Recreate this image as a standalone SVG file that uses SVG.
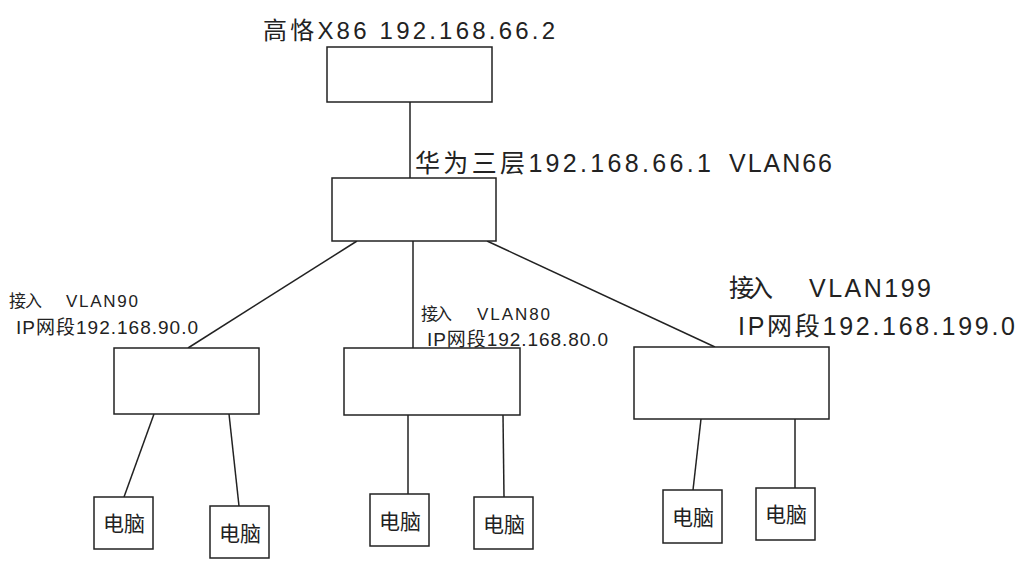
<svg xmlns="http://www.w3.org/2000/svg" width="1024" height="576" viewBox="0 0 1024 576">
<style>
.box{fill:#fff;stroke:#222;stroke-width:1.5}
.ln{stroke:#222;stroke-width:1.5;fill:none}
text{font-family:"Liberation Sans","Noto Sans CJK SC",sans-serif;fill:#222}
.pc{font-size:21px;text-anchor:middle}
</style>
<rect width="1024" height="576" fill="#fff"/>
<g id="connectors">
<line class="ln" x1="410" y1="102" x2="410" y2="178"/>
<line class="ln" x1="357" y1="241" x2="188" y2="348"/>
<line class="ln" x1="413" y1="241" x2="413" y2="348"/>
<line class="ln" x1="487" y1="241" x2="715" y2="347"/>
<line class="ln" x1="154" y1="414" x2="124" y2="497"/>
<line class="ln" x1="229" y1="414" x2="239" y2="506"/>
<line class="ln" x1="408" y1="415" x2="408" y2="494"/>
<line class="ln" x1="503" y1="415" x2="504" y2="497"/>
<line class="ln" x1="701" y1="419" x2="693" y2="490"/>
<line class="ln" x1="795" y1="419" x2="795" y2="488"/>
</g>
<g id="gaoke">
<rect class="box" x="327" y="47" width="165" height="55"/>
<text x="263" y="39" font-size="24" textLength="292">高恪X86 192.168.66.2</text>
</g>
<g id="huawei">
<rect class="box" x="332" y="178" width="164" height="63"/>
<text x="415" y="172" font-size="25"><tspan textLength="296">华为三层192.168.66.1</tspan><tspan x="729" textLength="103">VLAN66</tspan></text>
</g>
<g id="access90">
<rect class="box" x="114" y="348" width="145" height="66"/>
<text x="9" y="307" font-size="17"><tspan textLength="33">接入</tspan><tspan x="66" textLength="72">VLAN90</tspan></text>
<text x="16" y="334" font-size="19" textLength="182">IP网段192.168.90.0</text>
</g>
<g id="access80">
<rect class="box" x="344" y="348" width="176" height="67"/>
<text x="421" y="320" font-size="17"><tspan textLength="31">接入</tspan><tspan x="477" textLength="73">VLAN80</tspan></text>
<text x="427" y="346" font-size="19" textLength="181">IP网段192.168.80.0</text>
</g>
<g id="access199">
<rect class="box" x="634" y="347" width="195" height="72"/>
<text x="729" y="297" font-size="25"><tspan textLength="44">接入</tspan><tspan x="809" textLength="122">VLAN199</tspan></text>
<text x="738" y="335" font-size="25" textLength="277">IP网段192.168.199.0</text>
</g>
<g id="pc1"><rect class="box" x="94" y="497" width="59" height="52"/><text class="pc" x="124" y="531">电脑</text></g>
<g id="pc2"><rect class="box" x="210" y="506" width="59" height="52"/><text class="pc" x="240" y="541">电脑</text></g>
<g id="pc3"><rect class="box" x="370" y="494" width="59" height="52"/><text class="pc" x="400" y="529">电脑</text></g>
<g id="pc4"><rect class="box" x="474" y="497" width="59" height="52"/><text class="pc" x="504" y="532">电脑</text></g>
<g id="pc5"><rect class="box" x="663" y="490" width="59" height="53"/><text class="pc" x="693" y="525">电脑</text></g>
<g id="pc6"><rect class="box" x="756" y="488" width="59" height="52"/><text class="pc" x="786" y="522">电脑</text></g>
</svg>
